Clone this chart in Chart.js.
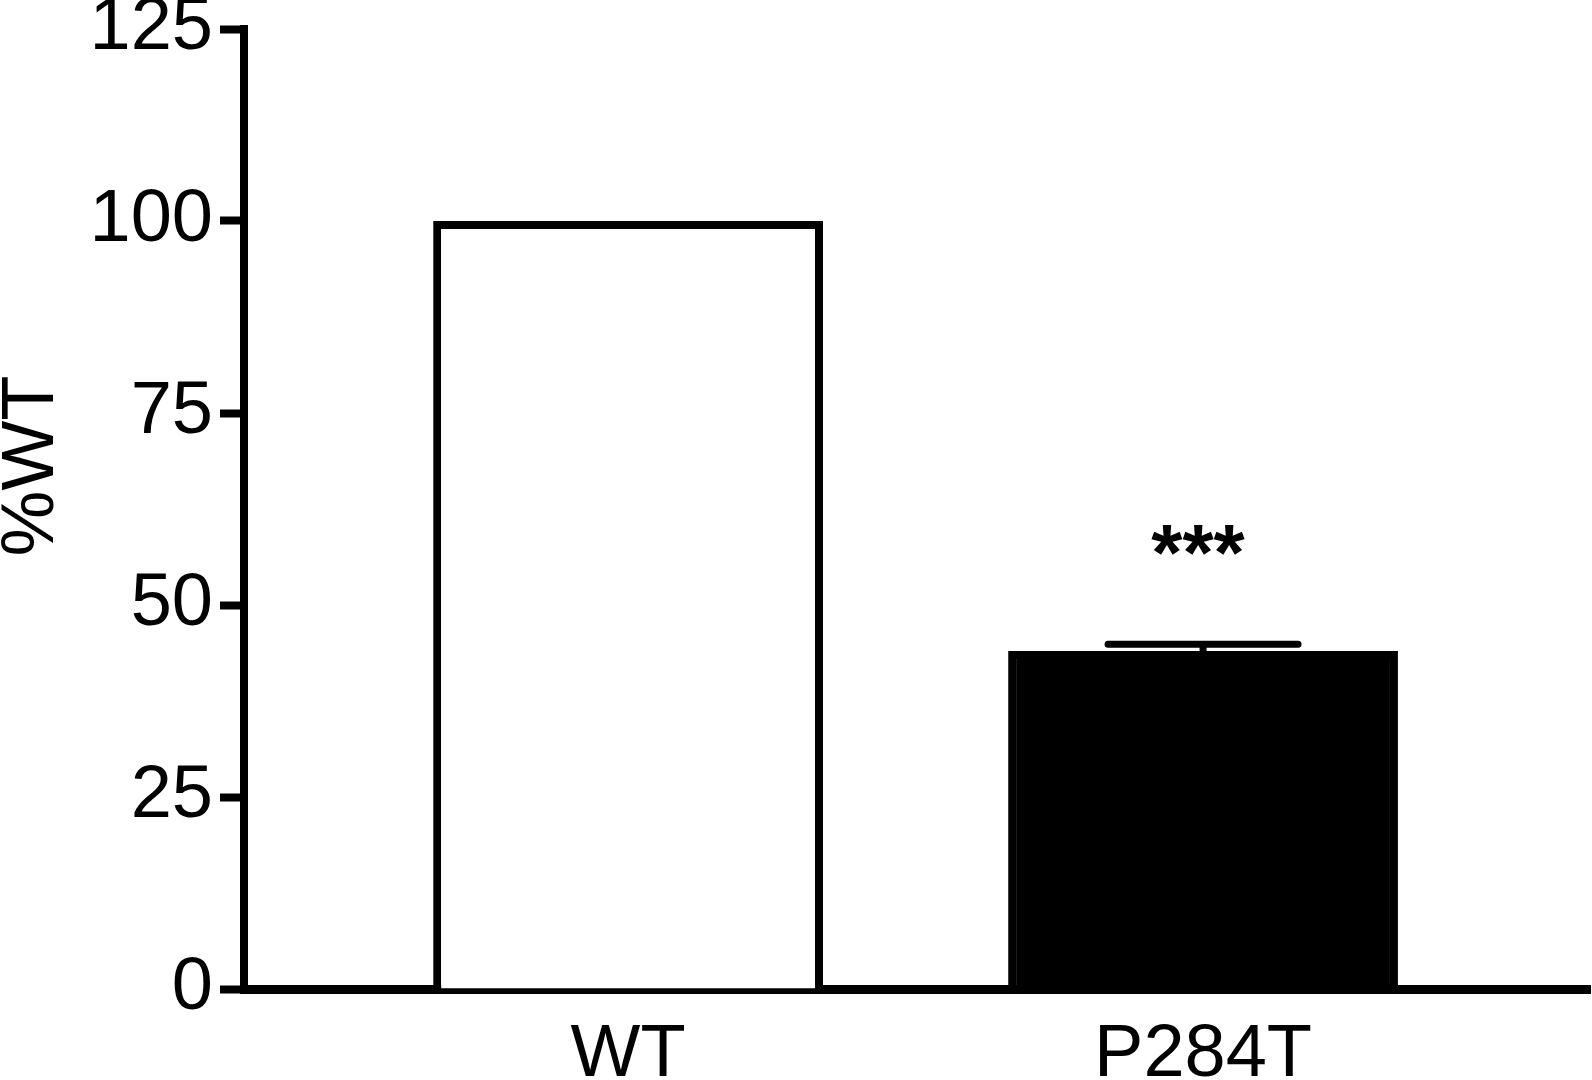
<!DOCTYPE html>
<html>
<head>
<meta charset="utf-8">
<script src="https://cdn.jsdelivr.net/npm/chart.js@4"></script>
<style>
  html, body { margin: 0; padding: 0; background: #fff; }
  #wrap { width: 1592px; height: 1080px; }
</style>
</head>
<body>
<div id="wrap"><canvas id="wtChart"></canvas></div>
<script>
// Data
var groups = ['WT', 'P284T'];
var meanValues = [100, 44];
var semValues = [0, 0.9];
var significance = ['', '***'];
var yTicks = [0, 25, 50, 75, 100, 125];
var yTitle = '%WT';

var fontFamily = 'Liberation Sans, Arial, sans-serif';

// error bars, stars and the rotated y title
var extras = {
    id: 'extras',
    afterDatasetsDraw: function(chart) {
        var ctx = chart.ctx;
        var xs = chart.scales.x;
        var ys = chart.scales.y;
        ctx.save();
        ctx.strokeStyle = '#000';
        ctx.fillStyle = '#000';
        ctx.lineWidth = 7;
        ctx.lineCap = 'round';
        groups.forEach(function(g, i) {
            var px = xs.getPixelForValue(i);
            var top = ys.getPixelForValue(meanValues[i] + semValues[i]);
            if (semValues[i]) {
                var base = ys.getPixelForValue(meanValues[i]);
                ctx.beginPath();
                ctx.moveTo(px, base);
                ctx.lineTo(px, top);
                ctx.moveTo(px - 95, top);
                ctx.lineTo(px + 95, top);
                ctx.stroke();
            }
            if (significance[i]) {
                ctx.font = 'bold 80px ' + fontFamily;
                ctx.textAlign = 'center';
                ctx.textBaseline = 'alphabetic';
                ctx.fillText(significance[i], px - 5, top - 64);
            }
        });
        ctx.translate(53, 466);
        ctx.rotate(-Math.PI / 2);
        ctx.font = '74px ' + fontFamily;
        ctx.textAlign = 'center';
        ctx.textBaseline = 'alphabetic';
        ctx.fillText(yTitle, 0, 0);
        ctx.restore();
    }
};

var ctx = document.getElementById('wtChart').getContext('2d');
var chart = new Chart(ctx, {
    type: 'bar',
    data: {
        datasets: [{
            data: groups.map(function(g, i) { return { x: i, y: meanValues[i] }; }),
            backgroundColor: ['#ffffff', '#000000'],
            borderColor: '#000000',
            borderWidth: 8,
            borderSkipped: 'bottom',
            barPercentage: 1,
            categoryPercentage: 0.678
        }]
    },
    options: {
        responsive: true,
        maintainAspectRatio: false,
        animation: false,
        layout: { padding: { top: 29, right: 2, left: 0, bottom: 0 } },
        plugins: {
            legend: { display: false },
            tooltip: { enabled: false }
        },
        scales: {
            x: {
                type: 'linear',
                offset: false,
                z: 1,
                min: -0.668,
                max: 1.673,
                afterBuildTicks: function(scale) {
                    scale.ticks = groups.map(function(g, i) { return { value: i }; });
                },
                afterFit: function(scale) {
                    scale.height = 91;
                    scale.paddingLeft = 0;
                    scale.paddingRight = 0;
                },
                grid: { display: true, offset: false, drawOnChartArea: false, drawTicks: false },
                border: { display: true, color: '#000', width: 9 },
                ticks: {
                    color: '#000',
                    font: { family: fontFamily, size: 74 },
                    padding: 22,
                    maxRotation: 0,
                    autoSkip: false,
                    callback: function(v) { return groups[v]; }
                }
            },
            y: {
                min: 0,
                max: 125,
                afterBuildTicks: function(scale) {
                    scale.ticks = yTicks.map(function(v) { return { value: v }; });
                },
                afterFit: function(scale) {
                    scale.width = 244;
                    scale.paddingTop = 0;
                    scale.paddingBottom = 0;
                },
                grid: {
                    drawOnChartArea: false,
                    drawTicks: true,
                    tickLength: 24,
                    tickWidth: 8,
                    tickColor: '#000'
                },
                border: { display: true, color: '#000', width: 8 },
                ticks: {
                    color: '#000',
                    font: { family: fontFamily, size: 74 },
                    padding: 7
                }
            }
        }
    },
    plugins: [extras]
});
</script>
</body>
</html>
